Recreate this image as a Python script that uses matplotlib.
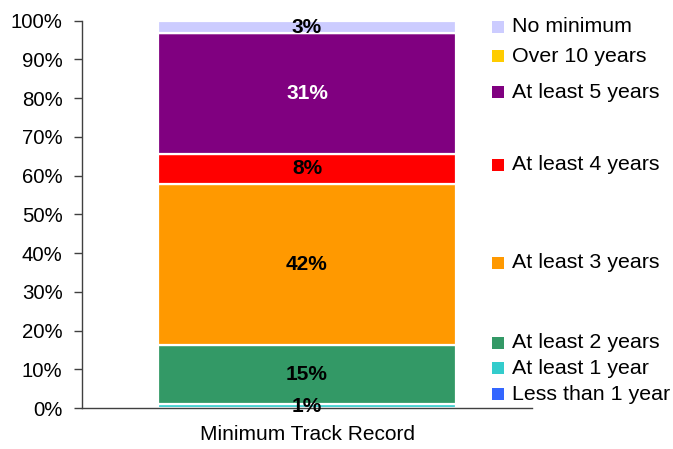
import matplotlib
matplotlib.use("Agg")
import matplotlib.pyplot as plt
from matplotlib.ticker import PercentFormatter

plt.rcParams['font.family'] = ['Liberation Sans', 'DejaVu Sans']

# segments, bottom to top
categories = ["Less than 1 year", "At least 1 year", "At least 2 years",
              "At least 3 years", "At least 4 years", "At least 5 years",
              "Over 10 years", "No minimum"]
values = [0.0, 1.0, 15.2, 41.7, 7.8, 31.0, 0.0, 3.3]
value_labels = ["", "1%", "15%", "42%", "8%", "31%", "", "3%"]
colors = ["#3366FF", "#33CCCC", "#339966", "#FF9900", "#FF0000",
          "#800080", "#FFCC00", "#CCCCFF"]
label_colors = ["black", "black", "black", "black", "black",
                "white", "black", "black"]
bar_name = "Minimum Track Record"

# legend text rows (figure pixels from the top), same order as categories
legend_rows_px = [394, 368, 343, 263, 165, 92, 56, 27]

W, H = 673, 449
fig = plt.figure(figsize=(W / 100, H / 100), dpi=100)
ax = fig.add_axes([82 / W, 1 - 408 / H, 450 / W, (408 - 20.7) / H])

bottom = 0.0
for val, col, lab, lcol in zip(values, colors, value_labels, label_colors):
    ax.bar(0, val, width=0.662, bottom=bottom, color=col,
           edgecolor="white", linewidth=1.6)
    if lab:
        ax.text(0, bottom + val / 2, lab, ha="center", va="center",
                fontsize=15, fontweight="bold", color=lcol)
    bottom += val

ax.set_xlim(-0.5, 0.5)
ax.set_ylim(0, 100)
ax.set_yticks(range(0, 101, 10))
ax.yaxis.set_major_formatter(PercentFormatter(decimals=0))
ax.set_xticks([0])
ax.set_xticklabels([bar_name])
ax.tick_params(axis="y", length=6, width=1, color="#404040",
               labelsize=14.7, pad=8, direction="out")
ax.tick_params(axis="x", length=0, labelsize=15, pad=12)
for s in ["top", "right"]:
    ax.spines[s].set_visible(False)
for s in ["left", "bottom"]:
    ax.spines[s].set_color("#404040")
    ax.spines[s].set_linewidth(1)

# legend placed beside the bar, like the original
for cat, col, ypx in zip(categories, colors, legend_rows_px):
    fy = 1 - ypx / H
    fig.patches.append(plt.Rectangle((492 / W, fy - 6 / H), 12 / W, 12 / H,
                                     transform=fig.transFigure,
                                     facecolor=col, edgecolor="none"))
    fig.text(512 / W, fy, cat, ha="left", va="center", fontsize=15.4)

fig.savefig("out.png", dpi=100)
